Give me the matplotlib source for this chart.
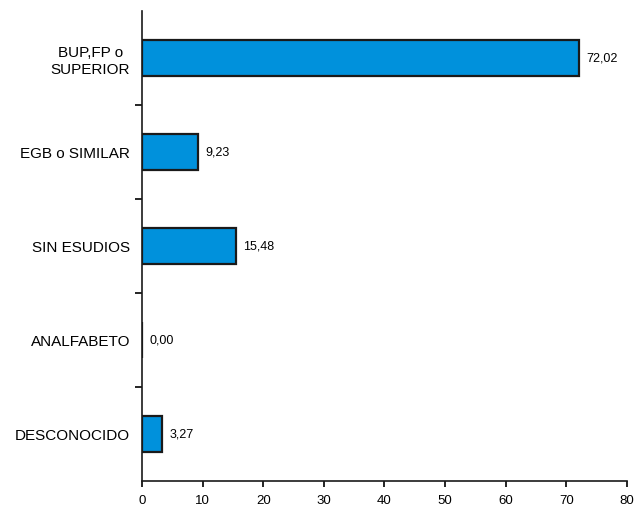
import matplotlib
matplotlib.use("Agg")
import matplotlib.pyplot as plt
import numpy as np

plt.rcParams['font.family'] = ['Liberation Sans', 'DejaVu Sans']

# data (top to bottom)
categories = ['BUP,FP o\nSUPERIOR', 'EGB o SIMILAR', 'SIN ESUDIOS', 'ANALFABETO', 'DESCONOCIDO']
values = [72.02, 9.23, 15.48, 0.00, 3.27]
value_labels = ['72,02', '9,23', '15,48', '0,00', '3,27']

fig = plt.figure(figsize=(6.36, 5.10), dpi=100)
ax = fig.add_axes([0.2233, 0.0549, 0.7625, 0.9216])

pos = np.arange(len(categories))[::-1]
ax.barh(pos, values, height=0.39, color='#0091DC', edgecolor='#1a1a1a', linewidth=1.6)

for p, v, lab in zip(pos, values, value_labels):
    ax.text(v + 1.2, p, lab, va='center', ha='left', fontsize=9)

ax.set_xlim(0, 80)
ax.set_ylim(-0.5, len(categories) - 0.5)
ax.set_xticks(np.arange(0, 81, 10))
ax.set_yticks(pos)
ax.set_yticklabels(categories, fontsize=11, multialignment='center')
ax.set_yticks(np.arange(0.5, len(categories) - 1, 1), minor=True)
ax.tick_params(axis='y', which='major', length=0, pad=8.5)
ax.tick_params(axis='y', which='minor', length=5, width=1.2, direction='out')
ax.tick_params(axis='x', length=4, width=1.2, direction='out', labelsize=9.5, pad=5.5)

for s in ['top', 'right']:
    ax.spines[s].set_visible(False)
for s in ['left', 'bottom']:
    ax.spines[s].set_linewidth(1.2)
    ax.spines[s].set_color('#1a1a1a')

fig.savefig('out.png', dpi=100)
